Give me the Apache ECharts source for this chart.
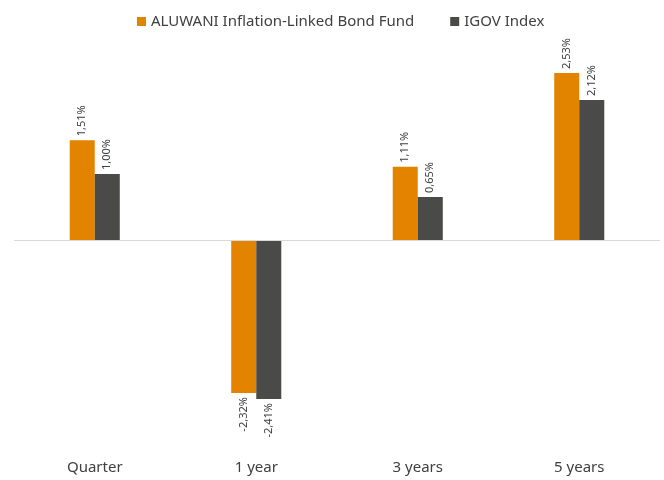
<!DOCTYPE html>
<html>
<head>
<meta charset="utf-8">
<script src="https://cdn.jsdelivr.net/npm/echarts@6/dist/echarts.min.js"></script>
<style>
  html, body { margin: 0; padding: 0; background: #fff; }
  #main { width: 664px; height: 480px; }
</style>
</head>
<body>
<div id="main"></div>
<script>
// data
var categories = ['Quarter', '1 year', '3 years', '5 years']
var fundValues = [1.51, -2.32, 1.11, 2.53]
var indexValues = [1.00, -2.41, 0.65, 2.12]
var seriesNames = ['ALUWANI Inflation-Linked Bond Fund', 'IGOV Index']

var chart = echarts.init(document.getElementById('main'))

function fmt (v) {
  return v.toFixed(2).replace('.', ',') + '%'
}

// 正值标签在上，负值在下
function toData (arr) {
  return arr.map(function (v) {
    var neg = v < 0
    return {
      value: v,
      label: {
        position: neg ? 'bottom' : 'top',
        align: neg ? 'right' : 'left'
      }
    }
  })
}

function makeSeries (name, arr, color) {
  return {
    name: name,
    type: 'bar',
    data: toData(arr),
    barCategoryGap: '69%',
    barGap: '0%',
    itemStyle: { color: color },
    label: {
      show: true,
      rotate: 90,
      verticalAlign: 'middle',
      distance: 4,
      fontSize: 11,
      color: '#404040',
      fontFamily: 'Noto Sans',
      formatter: function (p) { return fmt(p.value) }
    }
  }
}

var fund = makeSeries(seriesNames[0], fundValues, '#E38400')
fund.markLine = {
  silent: true,
  symbol: 'none',
  label: { show: false },
  lineStyle: { color: '#d9d9d9', type: 'solid', width: 1 },
  data: [{ yAxis: 0 }]
}

var opt = {
  animation: false,
  legend: {
    top: 9,
    left: 132,
    itemWidth: 9,
    itemHeight: 9,
    itemGap: 36,
    icon: 'rect',
    textStyle: { fontSize: 15, color: '#404040', fontFamily: 'Noto Sans' },
    data: seriesNames
  },
  grid: { left: 14, right: 4, top: 42, bottom: 42 },
  xAxis: {
    type: 'category',
    data: categories,
    axisLine: { show: false, onZero: false },
    axisTick: { show: false },
    axisLabel: { margin: 22, fontSize: 15, color: '#404040', fontFamily: 'Noto Sans' }
  },
  yAxis: {
    type: 'value',
    min: -3,
    max: 3,
    interval: 1,
    show: false,
    splitLine: { show: false }
  },
  series: [fund, makeSeries(seriesNames[1], indexValues, '#4A4A48')]
}

chart.setOption(opt)
</script>
</body>
</html>
